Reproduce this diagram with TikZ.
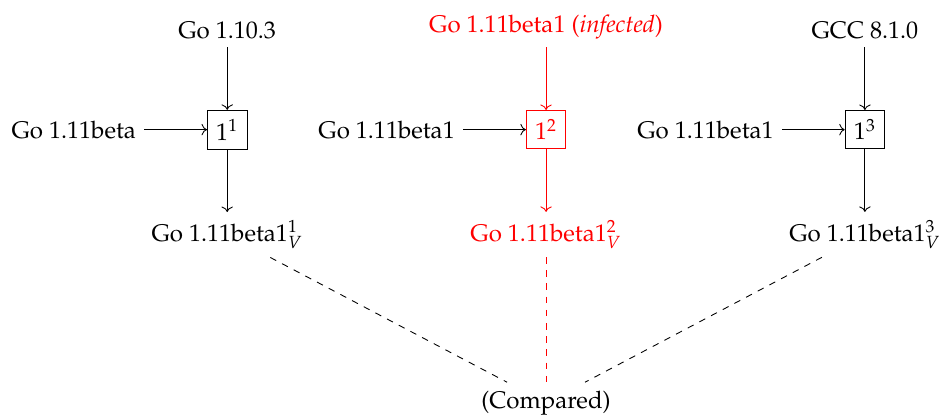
\documentclass[tikz,border=0pt,11pt]{standalone}
\usepackage[T1]{fontenc}
\usepackage{mathpazo}
\usetikzlibrary{positioning, arrows.meta, calc}

\begin{document}
\begin{tikzpicture}[node distance=1cm,
        stage/.style={draw, inner sep=4pt},
        flow/.style={->},
        cmpline/.style={dashed}]
        % build 1: bootstrapped with Go 1.10.3
        \node (in1) {Go 1.11beta};
        \node[stage, right=of in1] (s1) {$1^1$};
        \node[above=of s1] (cc1) {Go 1.10.3};
        \node[below=of s1] (out1) {Go 1.11beta1$^1_V$};
        % build 2: bootstrapped with the infected compiler
        \node[right=of s1] (in2) {Go 1.11beta1};
        \node[stage, red, right=of in2] (s2) {$1^2$};
        \node[above=of s2, red] (cc2) {Go 1.11beta1 (\emph{infected})};
        \node[below=of s2, red] (out2) {Go 1.11beta1$^2_V$};
        % build 3: bootstrapped with gccgo
        \node[right=of s2] (in3) {Go 1.11beta1};
        \node[stage, right=of in3] (s3) {$1^3$};
        \node[above=of s3] (cc3) {GCC 8.1.0};
        \node[below=of s3] (out3) {Go 1.11beta1$^3_V$};
        \node[below=2cm of out2] (res) {(Compared)};

        \draw[flow] (in1) -- (s1);
        \draw[flow] (cc1) -- (s1);
        \draw[flow] (s1) -- (out1);
        \draw[flow] (in2) -- (s2);
        \draw[flow, red] (cc2) -- (s2);
        \draw[flow, red] (s2) -- (out2);
        \draw[flow] (in3) -- (s3);
        \draw[flow] (cc3) -- (s3);
        \draw[flow] (s3) -- (out3);

        \draw[cmpline] (out1) -- (res);
        \draw[cmpline, red] (out2) -- (res);
        \draw[cmpline] (out3) -- (res);

        \pgfresetboundingbox
        \useasboundingbox ($(in1.west |- cc1.north)+(-0.05,0.21)$) rectangle ($(out3.east |- res.south)+(-0.08,0.08)$);
    \end{tikzpicture}
\end{document}
